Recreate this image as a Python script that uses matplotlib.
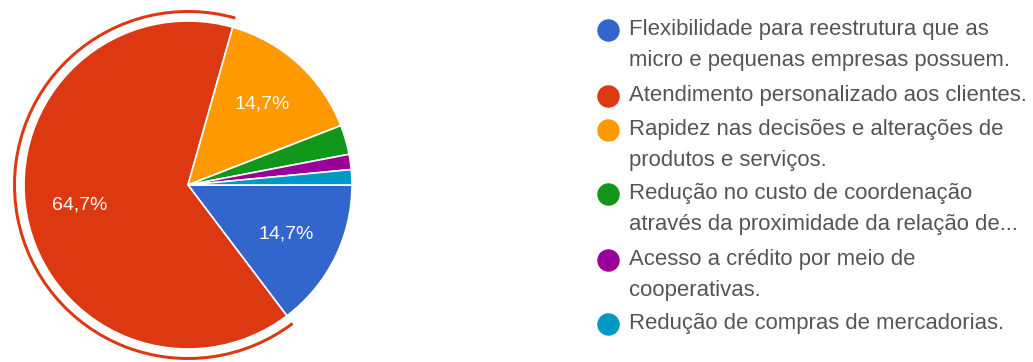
import matplotlib.pyplot as plt
from matplotlib.patches import Wedge

labels = ['Flexibilidade para reestrutura que as\nmicro e pequenas empresas possuem.',
          'Atendimento personalizado aos clientes.',
          'Rapidez nas decisões e alterações de\nprodutos e serviços.',
          'Redução no custo de coordenação\natravés da proximidade da relação de...',
          'Acesso a crédito por meio de\ncooperativas.',
          'Redução de compras de mercadorias.']
shares = [14.7, 64.7, 14.7, 2.9, 1.5, 1.5]
colors = ['#3366cc', '#dc3912', '#ff9900', '#109618', '#990099', '#0099c6']

W, H = 1033, 362
fig = plt.figure(figsize=(W / 100, H / 100), dpi=100)
ax = fig.add_axes([0, 0, 1, 1])

cx, cy, r = 188, H - 185, 164


def pct(p):
    if p < 5:
        return ''
    return f'{p:.1f}%'.replace('.', ',')


wedges, texts, autotexts = ax.pie(shares, colors=colors, startangle=0, counterclock=False,
                                  center=(cx, cy), radius=r, autopct=pct, pctdistance=0.67,
                                  wedgeprops=dict(edgecolor='white', linewidth=1.2),
                                  textprops=dict(color='#fffaf0', fontsize=14,
                                                 family='Liberation Sans'))

# highlight ring around the red slice
red = wedges[1]
ax.add_patch(Wedge((cx, cy), r + 11, red.theta1, red.theta2, width=3, color=colors[1], lw=0))

ax.set_xlim(0, W)
ax.set_ylim(0, H)
ax.set_aspect('equal')
ax.axis('off')

# legend
item_y = [30, 96, 130, 194, 260, 324]
for lab, c, y in zip(labels, colors, item_y):
    ax.scatter([608], [H - y], s=230, color=c, zorder=3)
    for k, line in enumerate(lab.split('\n')):
        ax.text(629, H - y - 30.5 * k, line, fontsize=15.9, family='Liberation Sans',
                color='#555555', va='center', ha='left')

fig.savefig('out.png', dpi=100)
